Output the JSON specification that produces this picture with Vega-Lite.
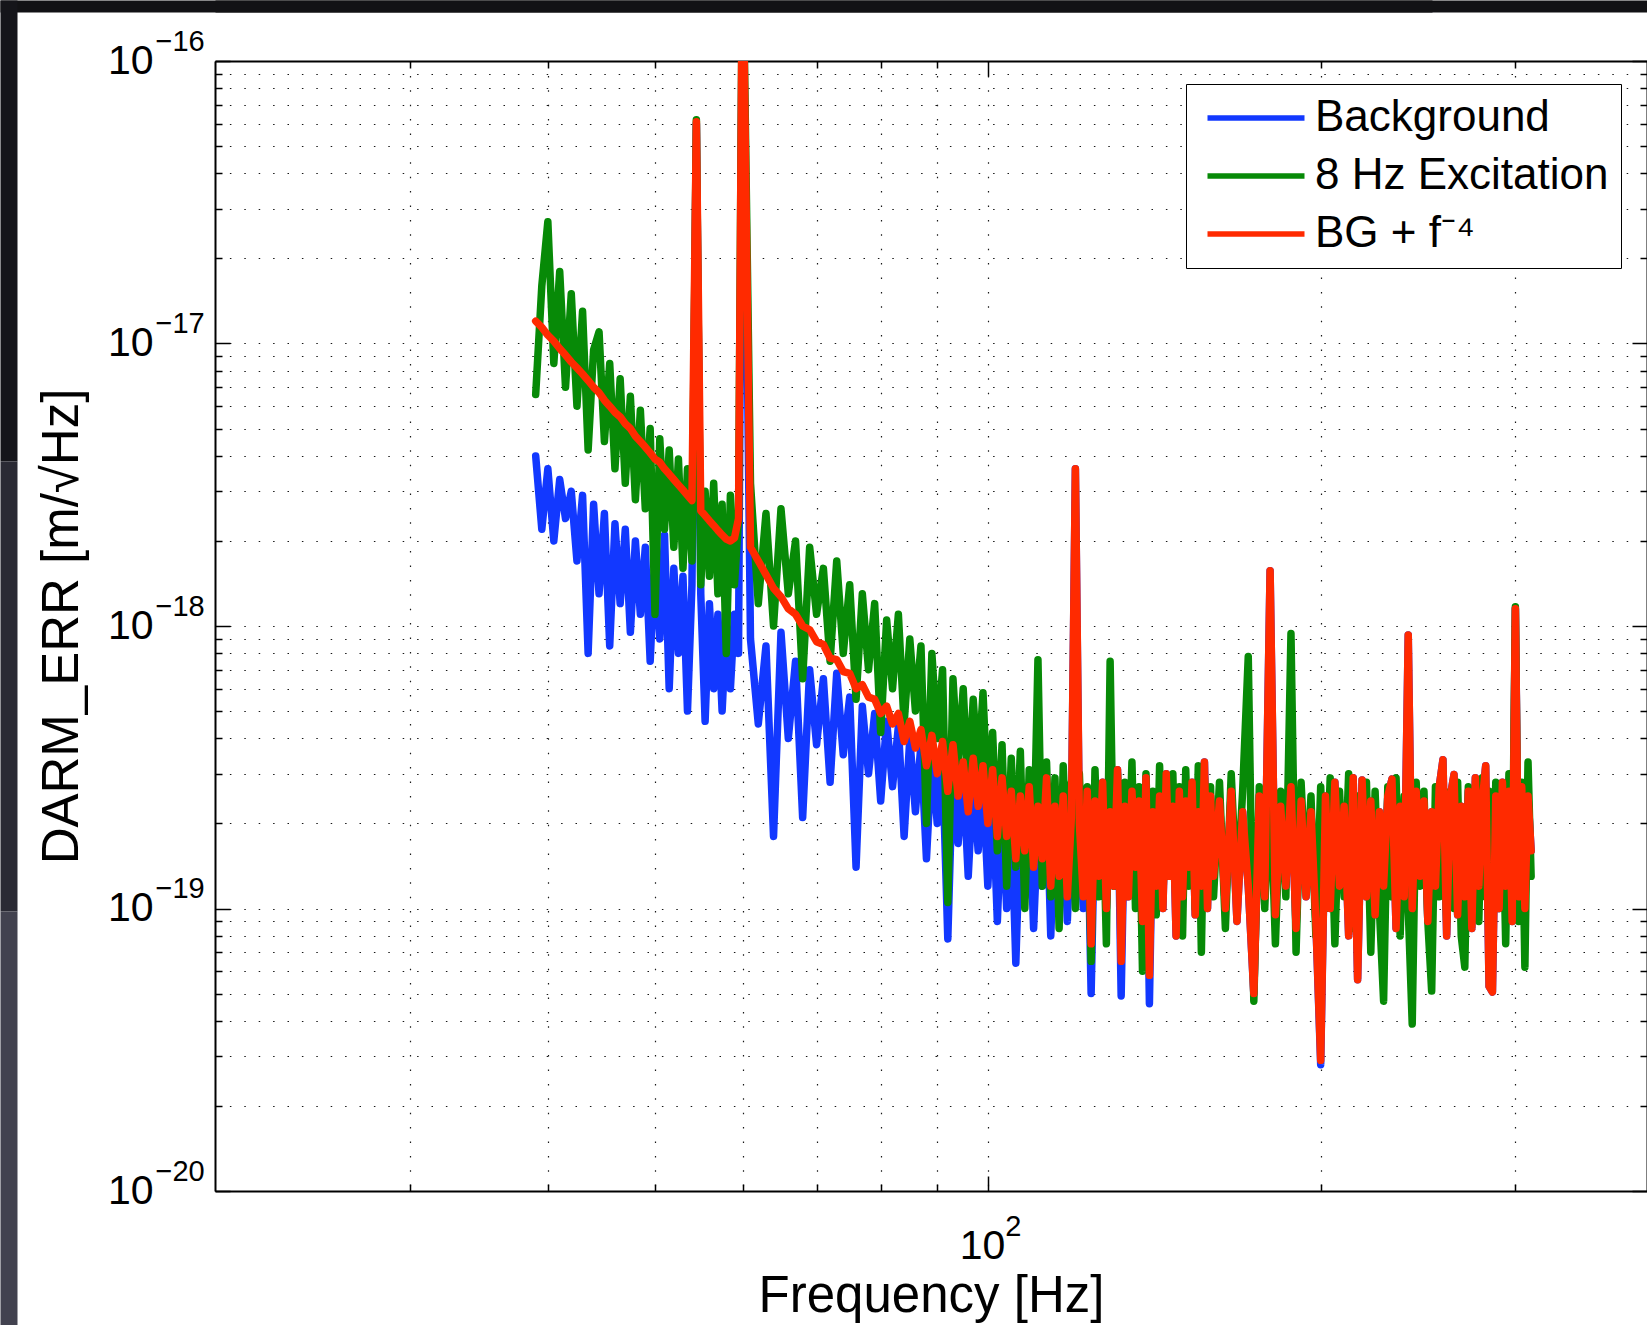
{
"$schema": "https://vega.github.io/schema/vega-lite/v6.json",
"width": 1432, "height": 1130,
"autosize": {"type": "none"},
"padding": {"left": 215, "top": 61, "right": 0, "bottom": 134},
"background": "white",
"config": {
 "font": "Liberation Sans",
 "view": {"stroke": null},
 "axis": {"labelFont": "Liberation Sans", "titleFont": "Liberation Sans", "labelColor": "#000", "titleColor": "#000", "domainColor": "#000", "tickColor": "#000", "titleFontWeight": "normal", "labelOverlap": false, "labelBound": false, "labelFlush": false, "tickWidth": 1.5, "domainWidth": 2, "gridColor": "#000", "gridDash": [1.5, 12.9], "gridWidth": 1.2, "gridOpacity": 0.9}
},
"datasets": {"psd": [
{"f":39,"b":4.0e-18,"g":6.6e-18,"r":1.2e-17},
{"f":39.5,"b":2.2e-18,"g":1.6e-17,"r":1.14e-17},
{"f":40,"b":3.6e-18,"g":2.7e-17,"r":1.07e-17},
{"f":40.5,"b":2.0e-18,"g":8.5e-18,"r":1.02e-17},
{"f":41,"b":3.3e-18,"g":1.8e-17,"r":9.6e-18},
{"f":41.5,"b":2.4e-18,"g":7.0e-18,"r":9.1e-18},
{"f":42,"b":3.0e-18,"g":1.5e-17,"r":8.6e-18},
{"f":42.5,"b":1.7e-18,"g":6.0e-18,"r":8.2e-18},
{"f":43,"b":2.9e-18,"g":1.3e-17,"r":7.8e-18},
{"f":43.5,"b":8.0e-19,"g":4.2e-18,"r":7.4e-18},
{"f":44,"b":2.7e-18,"g":9.5e-18,"r":7.0e-18},
{"f":44.5,"b":1.3e-18,"g":1.1e-17,"r":6.7e-18},
{"f":45,"b":2.5e-18,"g":4.5e-18,"r":6.3e-18},
{"f":45.5,"b":8.5e-19,"g":8.5e-18,"r":6.0e-18},
{"f":46,"b":2.3e-18,"g":3.6e-18,"r":5.7e-18},
{"f":46.5,"b":1.2e-18,"g":7.5e-18,"r":5.5e-18},
{"f":47,"b":2.2e-18,"g":3.2e-18,"r":5.2e-18},
{"f":47.5,"b":9.5e-19,"g":6.5e-18,"r":5.0e-18},
{"f":48,"b":2.0e-18,"g":2.8e-18,"r":4.7e-18},
{"f":48.5,"b":1.1e-18,"g":5.8e-18,"r":4.5e-18},
{"f":49,"b":1.9e-18,"g":2.6e-18,"r":4.3e-18},
{"f":49.5,"b":7.5e-19,"g":5.0e-18,"r":4.1e-18},
{"f":50,"b":1.8e-18,"g":1.1e-18,"r":3.9e-18},
{"f":50.5,"b":9.0e-19,"g":4.6e-18,"r":3.8e-18},
{"f":51,"b":2.1e-18,"g":2.2e-18,"r":3.6e-18},
{"f":51.5,"b":6.0e-19,"g":4.2e-18,"r":3.45e-18},
{"f":52,"b":1.6e-18,"g":1.9e-18,"r":3.3e-18},
{"f":52.5,"b":8.0e-19,"g":3.9e-18,"r":3.16e-18},
{"f":53,"b":1.5e-18,"g":1.6e-18,"r":3.03e-18},
{"f":53.5,"b":5.0e-19,"g":3.6e-18,"r":2.9e-18},
{"f":54,"b":1.4e-18,"g":1.7e-18,"r":2.78e-18},
{"f":54.5,"b":6.0e-17,"g":6.2e-17,"r":6.1e-17},
{"f":55,"b":1.3e-18,"g":1.4e-18,"r":2.56e-18},
{"f":55.5,"b":4.6e-19,"g":3.0e-18,"r":2.46e-18},
{"f":56,"b":1.2e-18,"g":1.5e-18,"r":2.36e-18},
{"f":56.5,"b":6.0e-19,"g":3.2e-18,"r":2.27e-18},
{"f":57,"b":1.1e-18,"g":1.3e-18,"r":2.18e-18},
{"f":57.5,"b":5.0e-19,"g":2.7e-18,"r":2.1e-18},
{"f":58,"b":1.0e-18,"g":8.0e-19,"r":2.03e-18},
{"f":58.5,"b":6.0e-19,"g":2.9e-18,"r":2.0e-18},
{"f":59,"b":1.1e-18,"g":1.4e-18,"r":2.05e-18},
{"f":59.5,"b":8.0e-19,"g":2.4e-18,"r":2.4e-18},
{"f":60,"b":2.9e-16,"g":3.0e-16,"r":3.0e-16},
{"f":61,"b":9.0e-19,"g":3.2e-18,"r":1.9e-18},
{"f":62,"b":4.5e-19,"g":1.2e-18,"r":1.7e-18},
{"f":63,"b":8.5e-19,"g":2.5e-18,"r":1.52e-18},
{"f":64,"b":1.8e-19,"g":1.0e-18,"r":1.36e-18},
{"f":65,"b":9.5e-19,"g":2.6e-18,"r":1.27e-18},
{"f":66,"b":4.0e-19,"g":1.3e-18,"r":1.15e-18},
{"f":67,"b":7.5e-19,"g":2.0e-18,"r":1.1e-18},
{"f":68,"b":2.1e-19,"g":6.5e-19,"r":1.0e-18},
{"f":69,"b":7.0e-19,"g":1.9e-18,"r":9.7e-19},
{"f":70,"b":3.8e-19,"g":1.1e-18,"r":8.8e-19},
{"f":71,"b":6.5e-19,"g":1.6e-18,"r":8.6e-19},
{"f":72,"b":2.8e-19,"g":7.5e-19,"r":7.7e-19},
{"f":73,"b":6.8e-19,"g":1.7e-18,"r":7.6e-19},
{"f":74,"b":3.5e-19,"g":8.0e-19,"r":6.9e-19},
{"f":75,"b":5.6e-19,"g":1.4e-18,"r":6.8e-19},
{"f":76,"b":1.4e-19,"g":5.5e-19,"r":6.0e-19},
{"f":77,"b":5.2e-19,"g":1.3e-18,"r":6.2e-19},
{"f":78,"b":3.0e-19,"g":7.0e-19,"r":5.6e-19},
{"f":79,"b":4.9e-19,"g":1.2e-18,"r":5.5e-19},
{"f":80,"b":2.4e-19,"g":4.2e-19,"r":4.9e-19},
{"f":81,"b":4.6e-19,"g":1.05e-18,"r":5.2e-19},
{"f":82,"b":2.7e-19,"g":6.0e-19,"r":4.5e-19},
{"f":83,"b":4.4e-19,"g":1.1e-18,"r":4.9e-19},
{"f":84,"b":1.8e-19,"g":4.5e-19,"r":3.9e-19},
{"f":85,"b":4.0e-19,"g":9.0e-19,"r":4.6e-19},
{"f":86,"b":2.2e-19,"g":5.0e-19,"r":3.7e-19},
{"f":87,"b":3.8e-19,"g":8.5e-19,"r":4.3e-19},
{"f":88,"b":1.5e-19,"g":2.0e-19,"r":3.2e-19},
{"f":89,"b":3.5e-19,"g":8.0e-19,"r":4.1e-19},
{"f":90,"b":2.0e-19,"g":4.0e-19,"r":3.0e-19},
{"f":91,"b":3.3e-19,"g":7.0e-19,"r":3.9e-19},
{"f":92,"b":7.8e-20,"g":1.05e-19,"r":2.6e-19},
{"f":93,"b":3.4e-19,"g":6.5e-19,"r":3.8e-19},
{"f":94,"b":1.7e-19,"g":3.2e-19,"r":2.5e-19},
{"f":95,"b":3.0e-19,"g":6.0e-19,"r":3.3e-19},
{"f":96,"b":1.3e-19,"g":2.6e-19,"r":2.2e-19},
{"f":97,"b":2.9e-19,"g":5.5e-19,"r":3.4e-19},
{"f":98,"b":1.6e-19,"g":3.0e-19,"r":2.3e-19},
{"f":99,"b":2.8e-19,"g":5.8e-19,"r":3.2e-19},
{"f":100,"b":1.2e-19,"g":2.3e-19,"r":2.0e-19},
{"f":101,"b":2.6e-19,"g":4.2e-19,"r":3.1e-19},
{"f":102,"b":9.0e-20,"g":1.6e-19,"r":1.8e-19},
{"f":103,"b":2.4e-19,"g":3.8e-19,"r":2.9e-19},
{"f":104,"b":1.0e-19,"g":1.2e-19,"r":1.8e-19},
{"f":105,"b":2.2e-19,"g":3.4e-19,"r":2.6e-19},
{"f":106,"b":6.4e-20,"g":1.4e-19,"r":1.5e-19},
{"f":107,"b":2.1e-19,"g":3.6e-19,"r":2.5e-19},
{"f":108,"b":1.1e-19,"g":1.0e-19,"r":1.6e-19},
{"f":109,"b":2.4e-19,"g":3.1e-19,"r":2.7e-19},
{"f":110,"b":8.5e-20,"g":1.5e-19,"r":1.4e-19},
{"f":111,"b":2.0e-19,"g":7.6e-19,"r":2.3e-19},
{"f":112,"b":1.2e-19,"g":1.2e-19,"r":1.5e-19},
{"f":113,"b":2.7e-19,"g":3.3e-19,"r":2.9e-19},
{"f":114,"b":8.0e-20,"g":1.1e-19,"r":1.2e-19},
{"f":115,"b":2.1e-19,"g":2.9e-19,"r":2.3e-19},
{"f":116,"b":1.0e-19,"g":8.5e-20,"r":1.3e-19},
{"f":117,"b":2.4e-19,"g":3.2e-19,"r":2.5e-19},
{"f":118,"b":9.0e-20,"g":1.3e-19,"r":1.1e-19},
{"f":119,"b":2.0e-19,"g":2.8e-19,"r":2.1e-19},
{"f":120,"b":3.6e-18,"g":1.0e-19,"r":3.6e-18},
{"f":121,"b":1.9e-19,"g":3.0e-19,"r":2.0e-19},
{"f":122,"b":1.0e-19,"g":1.2e-19,"r":1.1e-19},
{"f":123,"b":2.5e-19,"g":2.7e-19,"r":2.6e-19},
{"f":124,"b":5.0e-20,"g":6.5e-20,"r":7.5e-20},
{"f":125,"b":2.3e-19,"g":3.1e-19,"r":2.4e-19},
{"f":126,"b":1.2e-19,"g":1.1e-19,"r":1.3e-19},
{"f":127,"b":2.8e-19,"g":2.6e-19,"r":2.8e-19},
{"f":128,"b":1.0e-19,"g":7.5e-20,"r":1.0e-19},
{"f":129,"b":2.2e-19,"g":7.5e-19,"r":2.2e-19},
{"f":130,"b":1.2e-19,"g":1.2e-19,"r":1.2e-19},
{"f":131,"b":3.1e-19,"g":3.0e-19,"r":3.1e-19},
{"f":132,"b":4.9e-20,"g":9.0e-20,"r":6.5e-20},
{"f":133,"b":2.3e-19,"g":2.8e-19,"r":2.3e-19},
{"f":134,"b":1.1e-19,"g":1.3e-19,"r":1.1e-19},
{"f":135,"b":2.6e-19,"g":3.3e-19,"r":2.6e-19},
{"f":136,"b":1.4e-19,"g":1.0e-19,"r":1.4e-19},
{"f":137,"b":2.4e-19,"g":2.7e-19,"r":2.4e-19},
{"f":138,"b":9.0e-20,"g":6.0e-20,"r":9.0e-20},
{"f":139,"b":2.9e-19,"g":3.0e-19,"r":2.9e-19},
{"f":140,"b":4.6e-20,"g":1.2e-19,"r":5.8e-20},
{"f":141,"b":2.2e-19,"g":2.6e-19,"r":2.2e-19},
{"f":142,"b":1.2e-19,"g":9.5e-20,"r":1.2e-19},
{"f":143,"b":2.5e-19,"g":3.2e-19,"r":2.5e-19},
{"f":144,"b":1.0e-19,"g":1.1e-19,"r":1.0e-19},
{"f":145,"b":3.0e-19,"g":2.8e-19,"r":3.0e-19},
{"f":146,"b":1.3e-19,"g":1.3e-19,"r":1.3e-19},
{"f":147,"b":2.3e-19,"g":3.0e-19,"r":2.3e-19},
{"f":148,"b":8.0e-20,"g":1.0e-19,"r":8.0e-20},
{"f":149,"b":2.6e-19,"g":2.7e-19,"r":2.6e-19},
{"f":150,"b":1.1e-19,"g":8.0e-20,"r":1.1e-19},
{"f":151,"b":2.4e-19,"g":3.1e-19,"r":2.4e-19},
{"f":152,"b":1.4e-19,"g":1.2e-19,"r":1.4e-19},
{"f":153,"b":2.8e-19,"g":2.6e-19,"r":2.8e-19},
{"f":154,"b":9.5e-20,"g":1.0e-19,"r":9.5e-20},
{"f":155,"b":2.2e-19,"g":3.2e-19,"r":2.2e-19},
{"f":156,"b":1.2e-19,"g":7.0e-20,"r":1.2e-19},
{"f":157,"b":3.3e-19,"g":2.9e-19,"r":3.3e-19},
{"f":158,"b":1.0e-19,"g":1.2e-19,"r":1.0e-19},
{"f":159,"b":2.5e-19,"g":2.7e-19,"r":2.5e-19},
{"f":160,"b":1.3e-19,"g":1.1e-19,"r":1.3e-19},
{"f":162,"b":2.4e-19,"g":2.8e-19,"r":2.4e-19},
{"f":164,"b":1.0e-19,"g":8.5e-20,"r":1.0e-19},
{"f":166,"b":2.6e-19,"g":3.0e-19,"r":2.6e-19},
{"f":168,"b":9.0e-20,"g":1.1e-19,"r":9.0e-20},
{"f":170,"b":2.2e-19,"g":2.6e-19,"r":2.2e-19},
{"f":172,"b":1.2e-19,"g":7.8e-19,"r":1.2e-19},
{"f":174,"b":5.0e-20,"g":4.7e-20,"r":5.0e-20},
{"f":176,"b":2.5e-19,"g":2.7e-19,"r":2.5e-19},
{"f":178,"b":1.1e-19,"g":1.0e-19,"r":1.1e-19},
{"f":180,"b":1.57e-18,"g":2.9e-19,"r":1.57e-18},
{"f":182,"b":9.5e-20,"g":7.5e-20,"r":9.5e-20},
{"f":184,"b":2.3e-19,"g":2.6e-19,"r":2.3e-19},
{"f":186,"b":1.2e-19,"g":1.1e-19,"r":1.2e-19},
{"f":188,"b":2.7e-19,"g":9.4e-19,"r":2.7e-19},
{"f":190,"b":8.5e-20,"g":7.0e-20,"r":8.5e-20},
{"f":192,"b":2.4e-19,"g":2.8e-19,"r":2.4e-19},
{"f":194,"b":1.1e-19,"g":1.2e-19,"r":1.1e-19},
{"f":196,"b":2.2e-19,"g":2.5e-19,"r":2.2e-19},
{"f":198,"b":9.0e-20,"g":8.0e-20,"r":9.0e-20},
{"f":200,"b":2.8e-20,"g":2.7e-19,"r":2.9e-20},
{"f":202,"b":2.5e-19,"g":1.0e-19,"r":2.5e-19},
{"f":204,"b":1.0e-19,"g":2.9e-19,"r":1.0e-19},
{"f":206,"b":2.8e-19,"g":7.5e-20,"r":2.8e-19},
{"f":208,"b":1.2e-19,"g":2.6e-19,"r":1.2e-19},
{"f":210,"b":2.3e-19,"g":1.1e-19,"r":2.3e-19},
{"f":212,"b":8.0e-20,"g":3.0e-19,"r":8.0e-20},
{"f":214,"b":2.9e-19,"g":8.5e-20,"r":2.9e-19},
{"f":216,"b":5.6e-20,"g":2.5e-19,"r":5.6e-20},
{"f":218,"b":2.85e-19,"g":1.2e-19,"r":2.85e-19},
{"f":220,"b":1.1e-19,"g":2.8e-19,"r":1.1e-19},
{"f":222,"b":2.4e-19,"g":7.0e-20,"r":2.4e-19},
{"f":224,"b":9.5e-20,"g":2.6e-19,"r":9.5e-20},
{"f":226,"b":2.2e-19,"g":1.0e-19,"r":2.2e-19},
{"f":228,"b":1.2e-19,"g":4.7e-20,"r":1.2e-19},
{"f":230,"b":2.5e-19,"g":2.7e-19,"r":2.5e-19},
{"f":232,"b":2.87e-19,"g":1.1e-19,"r":2.87e-19},
{"f":234,"b":8.5e-20,"g":2.9e-19,"r":8.5e-20},
{"f":236,"b":2.3e-19,"g":8.0e-20,"r":2.3e-19},
{"f":238,"b":1.1e-19,"g":2.5e-19,"r":1.1e-19},
{"f":240,"b":9.3e-19,"g":1.0e-19,"r":9.3e-19},
{"f":242,"b":1.0e-19,"g":3.9e-20,"r":1.0e-19},
{"f":244,"b":2.6e-19,"g":2.8e-19,"r":2.6e-19},
{"f":246,"b":1.3e-19,"g":1.2e-19,"r":1.3e-19},
{"f":248,"b":2.4e-19,"g":2.6e-19,"r":2.4e-19},
{"f":250,"b":9.0e-20,"g":9.0e-20,"r":9.0e-20},
{"f":252,"b":2.2e-19,"g":5.1e-20,"r":2.2e-19},
{"f":254,"b":1.2e-19,"g":2.7e-19,"r":1.2e-19},
{"f":256,"b":2.7e-19,"g":1.1e-19,"r":2.7e-19},
{"f":258,"b":3.36e-19,"g":2.9e-19,"r":3.36e-19},
{"f":260,"b":8.0e-20,"g":9.0e-20,"r":8.0e-20},
{"f":262,"b":2.5e-19,"g":2.6e-19,"r":2.5e-19},
{"f":264,"b":2.98e-19,"g":1.0e-19,"r":2.98e-19},
{"f":266,"b":9.5e-20,"g":2.8e-19,"r":9.5e-20},
{"f":268,"b":2.3e-19,"g":8.0e-20,"r":2.3e-19},
{"f":270,"b":1.1e-19,"g":6.2e-20,"r":1.1e-19},
{"f":272,"b":2.6e-19,"g":2.7e-19,"r":2.6e-19},
{"f":274,"b":8.5e-20,"g":1.2e-19,"r":8.5e-20},
{"f":276,"b":2.9e-19,"g":2.5e-19,"r":2.9e-19},
{"f":278,"b":1.2e-19,"g":9.0e-20,"r":1.2e-19},
{"f":280,"b":2.4e-19,"g":2.9e-19,"r":2.4e-19},
{"f":282,"b":3.2e-19,"g":1.1e-19,"r":3.2e-19},
{"f":284,"b":5.3e-20,"g":2.6e-19,"r":5.3e-20},
{"f":286,"b":5.06e-20,"g":8.5e-20,"r":5.06e-20},
{"f":288,"b":2.5e-19,"g":2.8e-19,"r":2.5e-19},
{"f":290,"b":1.0e-19,"g":1.0e-19,"r":1.0e-19},
{"f":292,"b":2.8e-19,"g":2.7e-19,"r":2.8e-19},
{"f":294,"b":1.2e-19,"g":7.5e-20,"r":1.2e-19},
{"f":296,"b":2.6e-19,"g":3.0e-19,"r":2.6e-19},
{"f":298,"b":9.0e-20,"g":1.1e-19,"r":9.0e-20},
{"f":300,"b":1.15e-18,"g":1.17e-18,"r":1.15e-18},
{"f":302,"b":1.1e-19,"g":9.0e-20,"r":1.1e-19},
{"f":304,"b":2.7e-19,"g":2.8e-19,"r":2.7e-19},
{"f":306,"b":1.0e-19,"g":6.2e-20,"r":1.0e-19},
{"f":308,"b":2.5e-19,"g":3.3e-19,"r":2.5e-19},
{"f":310,"b":1.6e-19,"g":1.3e-19,"r":1.6e-19}
]},
"resolve": {"axis": {"x": "independent", "y": "independent"}, "scale": {"y": "independent"}},
"layer": [
 {
  "data": {"values": [{"f": 100, "v": 1e-18}]},
  "mark": {"type": "point", "opacity": 0},
  "encoding": {
   "x": {"field": "f", "type": "quantitative", "scale": {"type": "log", "domain": [20, 394.6], "nice": false},
     "axis": {"orient": "bottom", "values": [30,40,50,60,70,80,90,100,200,300], "labels": false, "ticks": true, "tickSize": {"condition": {"test": "datum.value == 100", "value": -15}, "value": -7}, "domain": false, "grid": true, "title": null}},
   "y": {"field": "v", "type": "quantitative", "scale": {"type": "log", "domain": [1e-20, 1e-16], "nice": false},
     "axis": {"orient": "left", "values": [1e-20,2e-20,3e-20,4e-20,5e-20,6e-20,7e-20,8e-20,9e-20,1e-19,2e-19,3e-19,4e-19,5e-19,6e-19,7e-19,8e-19,9e-19,1e-18,2e-18,3e-18,4e-18,5e-18,6e-18,7e-18,8e-18,9e-18,1e-17,2e-17,3e-17,4e-17,5e-17,6e-17,7e-17,8e-17,9e-17,1e-16], "labels": false, "ticks": true, "tickSize": {"condition": {"test": "abs(log(datum.value)/LN10 - round(log(datum.value)/LN10)) < 0.001", "value": -15}, "value": -7}, "domain": false, "grid": true, "title": null}}
  }
 },
 {
  "data": {"name": "psd"},
  "transform": [{"fold": ["b", "g", "r"], "as": ["k", "v"]}],
  "mark": {"type": "line", "strokeWidth": 7.5, "clip": true, "strokeJoin": "round", "strokeCap": "round"},
  "encoding": {
   "x": {"field": "f", "type": "quantitative", "scale": {"type": "log", "domain": [20, 394.6], "nice": false},
     "axis": {"orient": "bottom", "values": [100], "labelExpr": "'10'", "ticks": false, "tickSize": 0, "grid": false, "domain": true, "labelFontSize": 41, "labelAlign": "right", "labelBaseline": "alphabetic", "labelOffset": 17, "labelPadding": 67, "title": "Frequency [Hz]", "titleFontSize": 51, "titleX": 716, "titleY": 120, "titleBaseline": "alphabetic", "titleAlign": "center", "titleAngle": 0}},
   "y": {"field": "v", "type": "quantitative", "scale": {"type": "log", "domain": [1e-20, 1e-16], "nice": false},
     "axis": {"orient": "left", "values": [1e-20,1e-19,1e-18,1e-17,1e-16], "labelExpr": "'10'", "ticks": false, "tickSize": 0, "grid": false, "domain": true, "labelFontSize": 41, "labelAlign": "right", "labelBaseline": "middle", "labelPadding": 62, "title": "DARM_ERR [m/√Hz]", "titleFontSize": 51, "titleX": -138, "titleY": 565, "titleAngle": -90, "titleBaseline": "alphabetic", "titleAlign": "center"}},
   "color": {"field": "k", "type": "nominal", "scale": {"domain": ["b", "g", "r"], "range": ["#1238ff", "#078a07", "#ff2a00"]},
     "legend": {"orient": "none", "legendX": 971, "legendY": 23, "title": null, "symbolType": "M-4,0H4", "symbolSize": 588, "symbolStrokeWidth": 5.5, "symbolOffset": 36, "labelFont": "Liberation Sans", "labelFontSize": 44, "labelColor": "#000", "labelOffset": 37, "labelLimit": 0, "padding": 12, "rowPadding": 14, "strokeColor": "#000", "fillColor": "#fff",
       "labelExpr": "datum.label == 'b' ? 'Background' : datum.label == 'g' ? '8 Hz Excitation' : 'BG + f⁻⁴'"}}
  }
 },
 {
  "data": {"values": [{"f": 100, "v": 1e-18}]},
  "mark": {"type": "point", "opacity": 0},
  "encoding": {
   "x": {"field": "f", "type": "quantitative", "scale": {"type": "log", "domain": [20, 394.6], "nice": false},
     "axis": {"orient": "bottom", "values": [100], "labelExpr": "'2'", "ticks": false, "tickSize": 0, "grid": false, "domain": false, "labelFontSize": 29, "labelAlign": "left", "labelBaseline": "alphabetic", "labelOffset": 17, "labelPadding": 44, "title": null}},
   "y": {"field": "v", "type": "quantitative", "scale": {"type": "log", "domain": [1e-20, 1e-16], "nice": false},
     "axis": {"orient": "left", "values": [1e-20,1e-19,1e-18,1e-17,1e-16], "labelExpr": "'−' + round(-log(datum.value)/LN10)", "ticks": false, "tickSize": 0, "grid": false, "domain": false, "labelFontSize": 29, "labelAlign": "left", "labelBaseline": "alphabetic", "labelPadding": 60, "labelOffset": -11, "title": null}}
  }
 },
 {
  "data": {"values": [{"f": 100, "v": 1e-18}]},
  "mark": {"type": "point", "opacity": 0},
  "encoding": {
   "x": {"field": "f", "type": "quantitative", "scale": {"type": "log", "domain": [20, 394.6], "nice": false},
     "axis": {"orient": "top", "values": [30,40,50,60,70,80,90,100,200,300], "labels": false, "ticks": true, "tickSize": {"condition": {"test": "datum.value == 100", "value": -15}, "value": -7}, "domain": true, "grid": false, "title": null}},
   "y": {"field": "v", "type": "quantitative", "scale": {"type": "log", "domain": [1e-20, 1e-16], "nice": false},
     "axis": {"orient": "right", "values": [1e-20,2e-20,3e-20,4e-20,5e-20,6e-20,7e-20,8e-20,9e-20,1e-19,2e-19,3e-19,4e-19,5e-19,6e-19,7e-19,8e-19,9e-19,1e-18,2e-18,3e-18,4e-18,5e-18,6e-18,7e-18,8e-18,9e-18,1e-17,2e-17,3e-17,4e-17,5e-17,6e-17,7e-17,8e-17,9e-17,1e-16], "labels": false, "ticks": true, "tickSize": {"condition": {"test": "abs(log(datum.value)/LN10 - round(log(datum.value)/LN10)) < 0.001", "value": -15}, "value": -7}, "domain": true, "grid": false, "title": null}}
  }
 },
 {
  "data": {"values": [{"f": 100, "v": 1e-18}]},
  "mark": {"type": "point", "opacity": 0},
  "encoding": {
   "x": {"field": "f", "type": "quantitative", "scale": {"type": "log", "domain": [20, 394.6], "nice": false},
     "axis": {"orient": "top", "labels": false, "ticks": false, "grid": false, "domain": true, "domainWidth": 12, "domainColor": "#121215", "offset": 55, "position": -215, "title": null}},
   "y": {"field": "v", "type": "quantitative", "scale": {"type": "log", "domain": [1e-20, 1e-16], "nice": false, "range": [400, -61]},
     "axis": {"orient": "left", "labels": false, "ticks": false, "grid": false, "domain": true, "domainWidth": 17, "domainColor": "#15151a", "offset": 206.5, "title": null}}
  }
 },
 {
  "data": {"values": [{"f": 100, "v": 1e-18}]},
  "mark": {"type": "point", "opacity": 0},
  "encoding": {
   "x": {"field": "f", "type": "quantitative", "scale": {"type": "log", "domain": [20, 394.6], "nice": false},
     "axis": {"orient": "top", "labels": false, "ticks": false, "grid": false, "domain": true, "domainWidth": 12, "domainColor": "#121215", "offset": 55, "position": 0, "title": null}},
   "y": {"field": "v", "type": "quantitative", "scale": {"type": "log", "domain": [1e-20, 1e-16], "nice": false, "range": [850, 400]},
     "axis": {"orient": "left", "labels": false, "ticks": false, "grid": false, "domain": true, "domainWidth": 17, "domainColor": "#2a2a34", "offset": 206.5, "title": null}}
  }
 },
 {
  "data": {"values": [{"f": 100, "v": 1e-18}]},
  "mark": {"type": "point", "opacity": 0},
  "encoding": {
   "x": {"field": "f", "type": "quantitative", "scale": {"type": "log", "domain": [20, 394.6], "nice": false}, "axis": null},
   "y": {"field": "v", "type": "quantitative", "scale": {"type": "log", "domain": [1e-20, 1e-16], "nice": false, "range": [1264, 850]},
     "axis": {"orient": "left", "labels": false, "ticks": false, "grid": false, "domain": true, "domainWidth": 17, "domainColor": "#42424f", "offset": 206.5, "title": null}}
  }
 }
]
}
